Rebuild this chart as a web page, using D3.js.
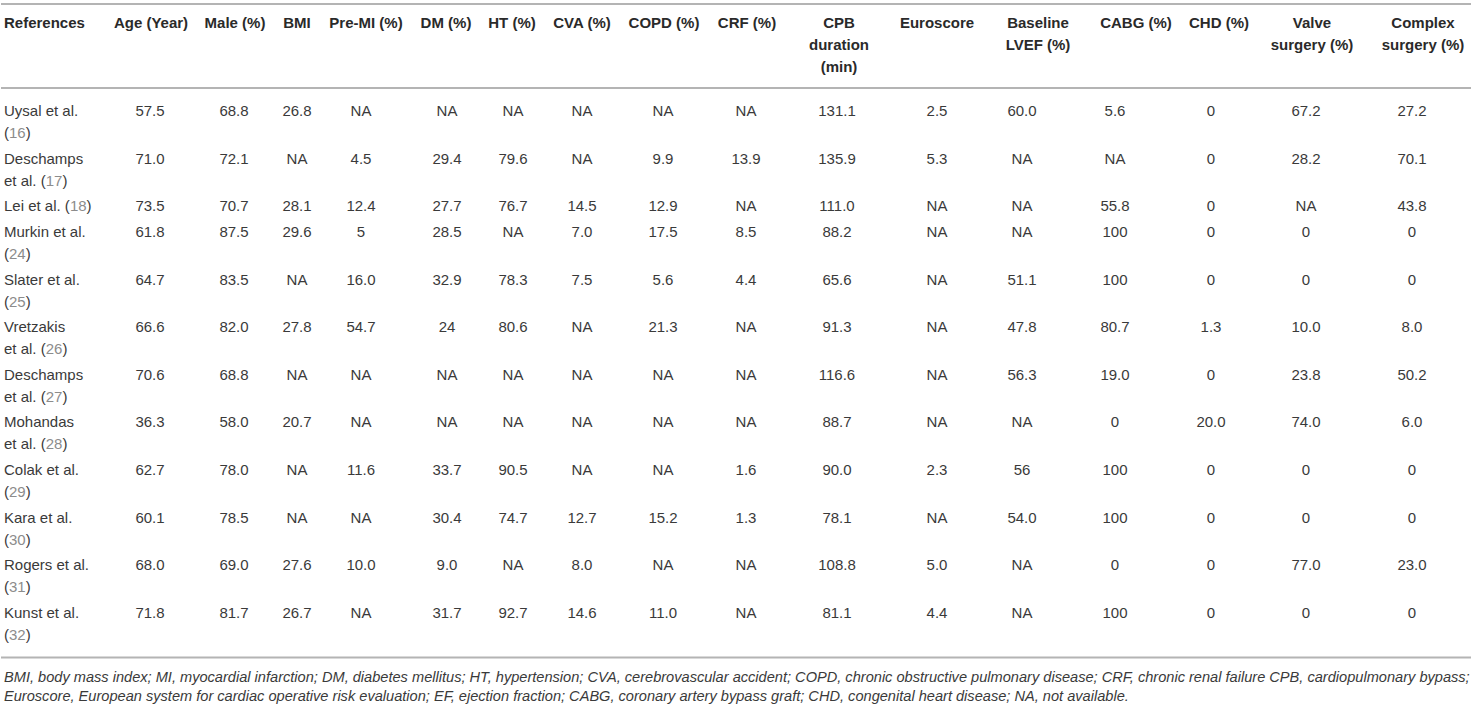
<!DOCTYPE html>
<html>
<head>
<meta charset="utf-8">
<script src="https://cdn.jsdelivr.net/npm/d3@7"></script>
<style>
  body { margin: 0; background: #fff; }
  svg { display: block; font-family: "Liberation Sans", Arial, Helvetica, sans-serif; }
</style>
</head>
<body>
<svg id="table" width="1474" height="705"></svg>
<script>
const headers = [
  "References", "Age (Year)", "Male (%)", "BMI", "Pre-MI (%)", "DM (%)", "HT (%)",
  "CVA (%)", "COPD (%)", "CRF (%)", "CPB\nduration\n(min)", "Euroscore",
  "Baseline\nLVEF (%)", "CABG (%)", "CHD (%)", "Valve\nsurgery (%)", "Complex\nsurgery (%)"
];

const studies = [
  "Uysal et al.\n(16)", "Deschamps\net al. (17)", "Lei et al. (18)", "Murkin et al.\n(24)",
  "Slater et al.\n(25)", "Vretzakis\net al. (26)", "Deschamps\net al. (27)", "Mohandas\net al. (28)",
  "Colak et al.\n(29)", "Kara et al.\n(30)", "Rogers et al.\n(31)", "Kunst et al.\n(32)"
];

const age       = ["57.5", "71.0", "73.5", "61.8", "64.7", "66.6", "70.6", "36.3", "62.7", "60.1", "68.0", "71.8"];
const male      = ["68.8", "72.1", "70.7", "87.5", "83.5", "82.0", "68.8", "58.0", "78.0", "78.5", "69.0", "81.7"];
const bmi       = ["26.8", "NA", "28.1", "29.6", "NA", "27.8", "NA", "20.7", "NA", "NA", "27.6", "26.7"];
const preMI     = ["NA", "4.5", "12.4", "5", "16.0", "54.7", "NA", "NA", "11.6", "NA", "10.0", "NA"];
const dm        = ["NA", "29.4", "27.7", "28.5", "32.9", "24", "NA", "NA", "33.7", "30.4", "9.0", "31.7"];
const ht        = ["NA", "79.6", "76.7", "NA", "78.3", "80.6", "NA", "NA", "90.5", "74.7", "NA", "92.7"];
const cva       = ["NA", "NA", "14.5", "7.0", "7.5", "NA", "NA", "NA", "NA", "12.7", "8.0", "14.6"];
const copd      = ["NA", "9.9", "12.9", "17.5", "5.6", "21.3", "NA", "NA", "NA", "15.2", "NA", "11.0"];
const crf       = ["NA", "13.9", "NA", "8.5", "4.4", "NA", "NA", "NA", "1.6", "1.3", "NA", "NA"];
const cpb       = ["131.1", "135.9", "111.0", "88.2", "65.6", "91.3", "116.6", "88.7", "90.0", "78.1", "108.8", "81.1"];
const euroscore = ["2.5", "5.3", "NA", "NA", "NA", "NA", "NA", "NA", "2.3", "NA", "5.0", "4.4"];
const lvef      = ["60.0", "NA", "NA", "NA", "51.1", "47.8", "56.3", "NA", "56", "54.0", "NA", "NA"];
const cabg      = ["5.6", "NA", "55.8", "100", "100", "80.7", "19.0", "0", "100", "100", "0", "100"];
const chd       = ["0", "0", "0", "0", "0", "1.3", "0", "20.0", "0", "0", "0", "0"];
const valve     = ["67.2", "28.2", "NA", "0", "0", "10.0", "23.8", "74.0", "0", "0", "77.0", "0"];
const complex   = ["27.2", "70.1", "43.8", "0", "0", "8.0", "50.2", "6.0", "0", "0", "23.0", "0"];

const footnotes = [
  "BMI, body mass index; MI, myocardial infarction; DM, diabetes mellitus; HT, hypertension; CVA, cerebrovascular accident; COPD, chronic obstructive pulmonary disease; CRF, chronic renal failure CPB, cardiopulmonary bypass;",
  "Euroscore, European system for cardiac operative risk evaluation; EF, ejection fraction; CABG, coronary artery bypass graft; CHD, congenital heart disease; NA, not available."
];

// ---- layout ----
const W = 1474;
const fontSize = 15;
const lineH = 22;
const rowPad = 3.6;
const headerTop = 23;
const bodyTop = 111;
const textColor = "#3a3a3a";
const ruleColor = "#b4b4b4";

const valueCols = [age, male, bmi, preMI, dm, ht, cva, copd, crf, cpb, euroscore, lvef, cabg, chd, valve, complex];
const keys = d3.range(headers.length);

// column centres (data cells and header cells are not quite aligned in the source)
const xData = d3.scaleOrdinal()
  .domain(keys)
  .range([4, 150, 234, 297, 361, 447, 513, 582, 663, 746, 837, 937, 1022, 1115, 1211, 1306, 1412]);
const xHead = d3.scaleOrdinal()
  .domain(keys)
  .range([4, 151, 235, 297, 366, 446, 512, 582, 664, 747, 839, 937, 1038, 1136, 1219, 1312, 1423]);

// row tops from the number of lines in each study label
const lineCounts = studies.map(s => s.split("\n").length);
const rowOffsets = [0].concat(Array.from(d3.cumsum(lineCounts, n => n * lineH + rowPad))).slice(0, studies.length);
const yRow = d3.scaleOrdinal().domain(d3.range(studies.length)).range(rowOffsets.map(o => bodyTop + o));

const svg = d3.select("#table");

// rules
const lastRow = studies.length - 1;
const bottomRule = yRow(lastRow) + (lineCounts[lastRow] - 1) * lineH + 23;
const rules = [4, 88, bottomRule];
svg.selectAll("line.rule")
  .data(rules)
  .enter()
  .append("line")
  .attr("class", "rule")
  .attr("x1", 1)
  .attr("x2", W - 3)
  .attr("y1", d => d)
  .attr("y2", d => d)
  .attr("stroke", ruleColor)
  .attr("stroke-width", 2);

// header
const head = svg.append("g").attr("class", "header");
head.selectAll("text")
  .data(headers)
  .enter()
  .append("text")
  .attr("x", (d, i) => xHead(i))
  .attr("y", headerTop)
  .attr("text-anchor", (d, i) => (i === 0 ? "start" : "middle"))
  .attr("font-size", fontSize)
  .attr("font-weight", "bold")
  .attr("fill", "#2a2a2a")
  .each(function(d, i) {
    const t = d3.select(this);
    d.split("\n").forEach((line, k) => {
      t.append("tspan")
        .attr("x", xHead(i))
        .attr("y", headerTop + k * lineH)
        .attr("dy", "0.35em")
        .text(line);
    });
  });

// study labels with grey reference numbers
const body = svg.append("g").attr("class", "body");
body.selectAll("text.study")
  .data(studies)
  .enter()
  .append("text")
  .attr("class", "study")
  .attr("font-size", fontSize)
  .attr("fill", textColor)
  .each(function(d, i) {
    const t = d3.select(this);
    d.split("\n").forEach((line, k) => {
      const parts = line.split(/(\d+)(?=\))/);
      parts.forEach((p, j) => {
        const ts = t.append("tspan")
          .attr("fill", /^\d+$/.test(p) ? "#8c8c8c" : textColor)
          .text(p);
        if (j === 0) {
          ts.attr("x", xData(0)).attr("y", yRow(i) + k * lineH).attr("dy", "0.35em");
        } else {
          ts.attr("dy", 0);
        }
      });
    });
  });

// value cells
valueCols.forEach((col, c) => {
  body.selectAll(`text.col${c}`)
    .data(col)
    .enter()
    .append("text")
    .attr("class", `col${c}`)
    .attr("x", xData(c + 1))
    .attr("y", (d, i) => yRow(i))
    .attr("dy", "0.35em")
    .attr("text-anchor", "middle")
    .attr("font-size", fontSize)
    .attr("fill", textColor)
    .text(d => d);
});

// footnotes
svg.append("g")
  .attr("class", "foot")
  .selectAll("text")
  .data(footnotes)
  .enter()
  .append("text")
  .attr("x", 4)
  .attr("y", (d, i) => bottomRule + 19 + i * 19.5)
  .attr("dy", "0.35em")
  .attr("font-size", 14.6)
  .attr("font-style", "italic")
  .attr("fill", textColor)
  .text(d => d);
</script>
</body>
</html>
